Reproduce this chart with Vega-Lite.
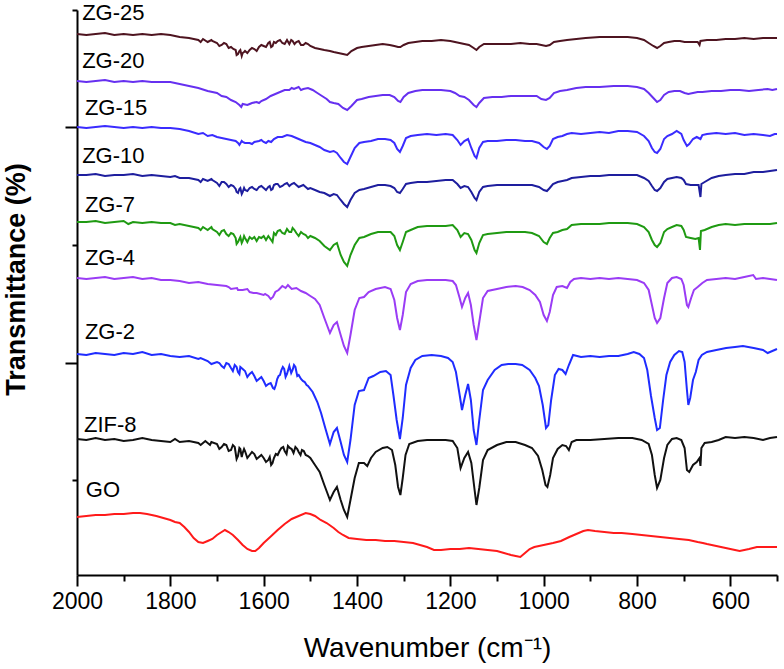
{
"$schema":"https://vega.github.io/schema/vega-lite/v6.json",
"width":700,"height":565,
"autosize":{"type":"none"},
"padding":{"left":77,"top":10,"right":7,"bottom":94},
"background":"white",
"config":{"view":{"stroke":null},"font":"Liberation Sans"},
"datasets":{
"spec":[
{"s":"ZIF-8","w":2000,"t":136},{"s":"ZIF-8","w":1980,"t":135},{"s":"ZIF-8","w":1960,"t":137},{"s":"ZIF-8","w":1940,"t":135},{"s":"ZIF-8","w":1920,"t":136},{"s":"ZIF-8","w":1900,"t":134},{"s":"ZIF-8","w":1880,"t":135},{"s":"ZIF-8","w":1860,"t":137},{"s":"ZIF-8","w":1840,"t":135},{"s":"ZIF-8","w":1820,"t":134},{"s":"ZIF-8","w":1800,"t":133},{"s":"ZIF-8","w":1790,"t":136},{"s":"ZIF-8","w":1780,"t":133},{"s":"ZIF-8","w":1760,"t":134},{"s":"ZIF-8","w":1740,"t":132},{"s":"ZIF-8","w":1735,"t":130},{"s":"ZIF-8","w":1725,"t":134},{"s":"ZIF-8","w":1715,"t":130},{"s":"ZIF-8","w":1712,"t":133},{"s":"ZIF-8","w":1700,"t":131},{"s":"ZIF-8","w":1695,"t":126},{"s":"ZIF-8","w":1690,"t":128},{"s":"ZIF-8","w":1685,"t":131},{"s":"ZIF-8","w":1680,"t":130},{"s":"ZIF-8","w":1675,"t":124},{"s":"ZIF-8","w":1670,"t":125},{"s":"ZIF-8","w":1666,"t":130},{"s":"ZIF-8","w":1662,"t":128},{"s":"ZIF-8","w":1658,"t":116},{"s":"ZIF-8","w":1655,"t":119},{"s":"ZIF-8","w":1652,"t":127},{"s":"ZIF-8","w":1650,"t":126},{"s":"ZIF-8","w":1647,"t":118},{"s":"ZIF-8","w":1645,"t":122},{"s":"ZIF-8","w":1642,"t":126},{"s":"ZIF-8","w":1640,"t":124},{"s":"ZIF-8","w":1635,"t":117},{"s":"ZIF-8","w":1630,"t":120},{"s":"ZIF-8","w":1625,"t":123},{"s":"ZIF-8","w":1620,"t":121},{"s":"ZIF-8","w":1615,"t":116},{"s":"ZIF-8","w":1610,"t":118},{"s":"ZIF-8","w":1605,"t":120},{"s":"ZIF-8","w":1600,"t":117},{"s":"ZIF-8","w":1595,"t":113},{"s":"ZIF-8","w":1590,"t":115},{"s":"ZIF-8","w":1587,"t":118},{"s":"ZIF-8","w":1584,"t":110},{"s":"ZIF-8","w":1581,"t":112},{"s":"ZIF-8","w":1578,"t":117},{"s":"ZIF-8","w":1574,"t":121},{"s":"ZIF-8","w":1570,"t":120},{"s":"ZIF-8","w":1566,"t":124},{"s":"ZIF-8","w":1562,"t":127},{"s":"ZIF-8","w":1558,"t":128},{"s":"ZIF-8","w":1555,"t":124},{"s":"ZIF-8","w":1551,"t":121},{"s":"ZIF-8","w":1548,"t":129},{"s":"ZIF-8","w":1544,"t":127},{"s":"ZIF-8","w":1540,"t":126},{"s":"ZIF-8","w":1536,"t":122},{"s":"ZIF-8","w":1532,"t":128},{"s":"ZIF-8","w":1528,"t":126},{"s":"ZIF-8","w":1525,"t":123},{"s":"ZIF-8","w":1521,"t":120},{"s":"ZIF-8","w":1518,"t":125},{"s":"ZIF-8","w":1514,"t":124},{"s":"ZIF-8","w":1510,"t":120},{"s":"ZIF-8","w":1505,"t":119},{"s":"ZIF-8","w":1500,"t":117},{"s":"ZIF-8","w":1490,"t":110},{"s":"ZIF-8","w":1480,"t":103},{"s":"ZIF-8","w":1470,"t":90},{"s":"ZIF-8","w":1458,"t":75},{"s":"ZIF-8","w":1450,"t":83},{"s":"ZIF-8","w":1443,"t":88},{"s":"ZIF-8","w":1435,"t":75},{"s":"ZIF-8","w":1428,"t":65},{"s":"ZIF-8","w":1421,"t":58},{"s":"ZIF-8","w":1414,"t":75},{"s":"ZIF-8","w":1405,"t":97},{"s":"ZIF-8","w":1396,"t":112},{"s":"ZIF-8","w":1385,"t":112},{"s":"ZIF-8","w":1378,"t":109},{"s":"ZIF-8","w":1370,"t":117},{"s":"ZIF-8","w":1360,"t":123},{"s":"ZIF-8","w":1345,"t":127},{"s":"ZIF-8","w":1335,"t":128},{"s":"ZIF-8","w":1325,"t":125},{"s":"ZIF-8","w":1318,"t":110},{"s":"ZIF-8","w":1312,"t":88},{"s":"ZIF-8","w":1307,"t":80},{"s":"ZIF-8","w":1302,"t":97},{"s":"ZIF-8","w":1296,"t":120},{"s":"ZIF-8","w":1288,"t":131},{"s":"ZIF-8","w":1270,"t":134},{"s":"ZIF-8","w":1250,"t":135},{"s":"ZIF-8","w":1230,"t":135},{"s":"ZIF-8","w":1210,"t":135},{"s":"ZIF-8","w":1195,"t":134},{"s":"ZIF-8","w":1185,"t":127},{"s":"ZIF-8","w":1178,"t":107},{"s":"ZIF-8","w":1170,"t":117},{"s":"ZIF-8","w":1162,"t":123},{"s":"ZIF-8","w":1155,"t":112},{"s":"ZIF-8","w":1148,"t":85},{"s":"ZIF-8","w":1144,"t":70},{"s":"ZIF-8","w":1138,"t":87},{"s":"ZIF-8","w":1130,"t":115},{"s":"ZIF-8","w":1120,"t":125},{"s":"ZIF-8","w":1100,"t":130},{"s":"ZIF-8","w":1080,"t":133},{"s":"ZIF-8","w":1060,"t":133},{"s":"ZIF-8","w":1040,"t":130},{"s":"ZIF-8","w":1025,"t":127},{"s":"ZIF-8","w":1012,"t":119},{"s":"ZIF-8","w":1003,"t":105},{"s":"ZIF-8","w":996,"t":90},{"s":"ZIF-8","w":992,"t":88},{"s":"ZIF-8","w":986,"t":100},{"s":"ZIF-8","w":980,"t":117},{"s":"ZIF-8","w":970,"t":126},{"s":"ZIF-8","w":960,"t":130},{"s":"ZIF-8","w":952,"t":129},{"s":"ZIF-8","w":946,"t":125},{"s":"ZIF-8","w":940,"t":133},{"s":"ZIF-8","w":930,"t":135},{"s":"ZIF-8","w":900,"t":135},{"s":"ZIF-8","w":870,"t":136},{"s":"ZIF-8","w":840,"t":137},{"s":"ZIF-8","w":810,"t":137},{"s":"ZIF-8","w":790,"t":135},{"s":"ZIF-8","w":775,"t":131},{"s":"ZIF-8","w":768,"t":120},{"s":"ZIF-8","w":762,"t":100},{"s":"ZIF-8","w":757,"t":87},{"s":"ZIF-8","w":750,"t":95},{"s":"ZIF-8","w":742,"t":117},{"s":"ZIF-8","w":735,"t":130},{"s":"ZIF-8","w":725,"t":136},{"s":"ZIF-8","w":715,"t":137},{"s":"ZIF-8","w":705,"t":135},{"s":"ZIF-8","w":698,"t":127},{"s":"ZIF-8","w":693,"t":105},{"s":"ZIF-8","w":688,"t":103},{"s":"ZIF-8","w":680,"t":110},{"s":"ZIF-8","w":672,"t":113},{"s":"ZIF-8","w":666,"t":117},{"s":"ZIF-8","w":664,"t":109},{"s":"ZIF-8","w":662,"t":127},{"s":"ZIF-8","w":655,"t":132},{"s":"ZIF-8","w":640,"t":133},{"s":"ZIF-8","w":625,"t":135},{"s":"ZIF-8","w":610,"t":138},{"s":"ZIF-8","w":590,"t":137},{"s":"ZIF-8","w":570,"t":138},{"s":"ZIF-8","w":550,"t":137},{"s":"ZIF-8","w":530,"t":135},{"s":"ZIF-8","w":515,"t":137},{"s":"ZIF-8","w":500,"t":138},
{"s":"ZG-2","w":2000,"t":221},{"s":"ZG-2","w":1980,"t":220},{"s":"ZG-2","w":1960,"t":222},{"s":"ZG-2","w":1940,"t":221},{"s":"ZG-2","w":1920,"t":220},{"s":"ZG-2","w":1900,"t":222},{"s":"ZG-2","w":1880,"t":221},{"s":"ZG-2","w":1860,"t":223},{"s":"ZG-2","w":1840,"t":220},{"s":"ZG-2","w":1820,"t":221},{"s":"ZG-2","w":1800,"t":219},{"s":"ZG-2","w":1780,"t":218},{"s":"ZG-2","w":1760,"t":219},{"s":"ZG-2","w":1740,"t":216},{"s":"ZG-2","w":1735,"t":217},{"s":"ZG-2","w":1720,"t":214},{"s":"ZG-2","w":1712,"t":211},{"s":"ZG-2","w":1700,"t":213},{"s":"ZG-2","w":1695,"t":212},{"s":"ZG-2","w":1690,"t":209},{"s":"ZG-2","w":1685,"t":207},{"s":"ZG-2","w":1680,"t":212},{"s":"ZG-2","w":1675,"t":211},{"s":"ZG-2","w":1670,"t":207},{"s":"ZG-2","w":1666,"t":204},{"s":"ZG-2","w":1662,"t":210},{"s":"ZG-2","w":1658,"t":208},{"s":"ZG-2","w":1655,"t":203},{"s":"ZG-2","w":1652,"t":201},{"s":"ZG-2","w":1650,"t":208},{"s":"ZG-2","w":1645,"t":206},{"s":"ZG-2","w":1640,"t":204},{"s":"ZG-2","w":1635,"t":198},{"s":"ZG-2","w":1630,"t":201},{"s":"ZG-2","w":1625,"t":203},{"s":"ZG-2","w":1620,"t":199},{"s":"ZG-2","w":1615,"t":194},{"s":"ZG-2","w":1610,"t":196},{"s":"ZG-2","w":1605,"t":198},{"s":"ZG-2","w":1600,"t":194},{"s":"ZG-2","w":1595,"t":189},{"s":"ZG-2","w":1590,"t":191},{"s":"ZG-2","w":1585,"t":192},{"s":"ZG-2","w":1580,"t":187},{"s":"ZG-2","w":1577,"t":186},{"s":"ZG-2","w":1574,"t":190},{"s":"ZG-2","w":1571,"t":196},{"s":"ZG-2","w":1568,"t":199},{"s":"ZG-2","w":1565,"t":200},{"s":"ZG-2","w":1562,"t":205},{"s":"ZG-2","w":1559,"t":208},{"s":"ZG-2","w":1556,"t":206},{"s":"ZG-2","w":1553,"t":198},{"s":"ZG-2","w":1550,"t":201},{"s":"ZG-2","w":1545,"t":209},{"s":"ZG-2","w":1541,"t":202},{"s":"ZG-2","w":1538,"t":205},{"s":"ZG-2","w":1535,"t":210},{"s":"ZG-2","w":1532,"t":208},{"s":"ZG-2","w":1528,"t":199},{"s":"ZG-2","w":1525,"t":200},{"s":"ZG-2","w":1520,"t":196},{"s":"ZG-2","w":1516,"t":194},{"s":"ZG-2","w":1512,"t":193},{"s":"ZG-2","w":1508,"t":190},{"s":"ZG-2","w":1505,"t":189},{"s":"ZG-2","w":1495,"t":183},{"s":"ZG-2","w":1485,"t":173},{"s":"ZG-2","w":1477,"t":162},{"s":"ZG-2","w":1468,"t":147},{"s":"ZG-2","w":1458,"t":131},{"s":"ZG-2","w":1450,"t":143},{"s":"ZG-2","w":1443,"t":147},{"s":"ZG-2","w":1435,"t":133},{"s":"ZG-2","w":1428,"t":120},{"s":"ZG-2","w":1421,"t":113},{"s":"ZG-2","w":1414,"t":135},{"s":"ZG-2","w":1405,"t":170},{"s":"ZG-2","w":1396,"t":184},{"s":"ZG-2","w":1385,"t":185},{"s":"ZG-2","w":1375,"t":197},{"s":"ZG-2","w":1365,"t":199},{"s":"ZG-2","w":1350,"t":203},{"s":"ZG-2","w":1338,"t":204},{"s":"ZG-2","w":1328,"t":200},{"s":"ZG-2","w":1322,"t":180},{"s":"ZG-2","w":1315,"t":155},{"s":"ZG-2","w":1308,"t":136},{"s":"ZG-2","w":1302,"t":157},{"s":"ZG-2","w":1295,"t":190},{"s":"ZG-2","w":1285,"t":207},{"s":"ZG-2","w":1275,"t":215},{"s":"ZG-2","w":1260,"t":219},{"s":"ZG-2","w":1240,"t":220},{"s":"ZG-2","w":1220,"t":219},{"s":"ZG-2","w":1205,"t":217},{"s":"ZG-2","w":1195,"t":213},{"s":"ZG-2","w":1188,"t":203},{"s":"ZG-2","w":1180,"t":180},{"s":"ZG-2","w":1175,"t":165},{"s":"ZG-2","w":1168,"t":180},{"s":"ZG-2","w":1162,"t":191},{"s":"ZG-2","w":1156,"t":175},{"s":"ZG-2","w":1150,"t":145},{"s":"ZG-2","w":1144,"t":130},{"s":"ZG-2","w":1138,"t":155},{"s":"ZG-2","w":1130,"t":185},{"s":"ZG-2","w":1120,"t":195},{"s":"ZG-2","w":1105,"t":205},{"s":"ZG-2","w":1090,"t":210},{"s":"ZG-2","w":1076,"t":211},{"s":"ZG-2","w":1060,"t":211},{"s":"ZG-2","w":1046,"t":210},{"s":"ZG-2","w":1030,"t":205},{"s":"ZG-2","w":1018,"t":197},{"s":"ZG-2","w":1010,"t":189},{"s":"ZG-2","w":1002,"t":170},{"s":"ZG-2","w":995,"t":147},{"s":"ZG-2","w":990,"t":150},{"s":"ZG-2","w":984,"t":175},{"s":"ZG-2","w":976,"t":200},{"s":"ZG-2","w":968,"t":206},{"s":"ZG-2","w":960,"t":205},{"s":"ZG-2","w":953,"t":201},{"s":"ZG-2","w":946,"t":210},{"s":"ZG-2","w":937,"t":220},{"s":"ZG-2","w":920,"t":218},{"s":"ZG-2","w":900,"t":219},{"s":"ZG-2","w":880,"t":218},{"s":"ZG-2","w":860,"t":219},{"s":"ZG-2","w":840,"t":219},{"s":"ZG-2","w":820,"t":221},{"s":"ZG-2","w":807,"t":223},{"s":"ZG-2","w":795,"t":221},{"s":"ZG-2","w":785,"t":217},{"s":"ZG-2","w":778,"t":205},{"s":"ZG-2","w":770,"t":179},{"s":"ZG-2","w":762,"t":157},{"s":"ZG-2","w":757,"t":145},{"s":"ZG-2","w":751,"t":147},{"s":"ZG-2","w":744,"t":175},{"s":"ZG-2","w":737,"t":200},{"s":"ZG-2","w":729,"t":213},{"s":"ZG-2","w":720,"t":220},{"s":"ZG-2","w":710,"t":224},{"s":"ZG-2","w":703,"t":223},{"s":"ZG-2","w":698,"t":213},{"s":"ZG-2","w":693,"t":185},{"s":"ZG-2","w":690,"t":170},{"s":"ZG-2","w":686,"t":177},{"s":"ZG-2","w":680,"t":195},{"s":"ZG-2","w":674,"t":203},{"s":"ZG-2","w":668,"t":215},{"s":"ZG-2","w":661,"t":220},{"s":"ZG-2","w":650,"t":223},{"s":"ZG-2","w":630,"t":225},{"s":"ZG-2","w":609,"t":227},{"s":"ZG-2","w":590,"t":228},{"s":"ZG-2","w":573,"t":229},{"s":"ZG-2","w":550,"t":227},{"s":"ZG-2","w":530,"t":225},{"s":"ZG-2","w":520,"t":222},{"s":"ZG-2","w":515,"t":223},{"s":"ZG-2","w":505,"t":225},{"s":"ZG-2","w":500,"t":226},
{"s":"ZG-4","w":2000,"t":297},{"s":"ZG-4","w":1980,"t":296},{"s":"ZG-4","w":1960,"t":297},{"s":"ZG-4","w":1940,"t":298},{"s":"ZG-4","w":1920,"t":296},{"s":"ZG-4","w":1900,"t":297},{"s":"ZG-4","w":1880,"t":298},{"s":"ZG-4","w":1860,"t":296},{"s":"ZG-4","w":1840,"t":297},{"s":"ZG-4","w":1820,"t":295},{"s":"ZG-4","w":1800,"t":295},{"s":"ZG-4","w":1780,"t":294},{"s":"ZG-4","w":1760,"t":292},{"s":"ZG-4","w":1740,"t":293},{"s":"ZG-4","w":1720,"t":291},{"s":"ZG-4","w":1700,"t":290},{"s":"ZG-4","w":1680,"t":289},{"s":"ZG-4","w":1675,"t":288},{"s":"ZG-4","w":1670,"t":286},{"s":"ZG-4","w":1657,"t":287},{"s":"ZG-4","w":1655,"t":285},{"s":"ZG-4","w":1645,"t":285},{"s":"ZG-4","w":1635,"t":286},{"s":"ZG-4","w":1630,"t":283},{"s":"ZG-4","w":1622,"t":282},{"s":"ZG-4","w":1615,"t":282},{"s":"ZG-4","w":1600,"t":280},{"s":"ZG-4","w":1597,"t":281},{"s":"ZG-4","w":1590,"t":279},{"s":"ZG-4","w":1585,"t":276},{"s":"ZG-4","w":1580,"t":278},{"s":"ZG-4","w":1575,"t":283},{"s":"ZG-4","w":1568,"t":285},{"s":"ZG-4","w":1560,"t":289},{"s":"ZG-4","w":1553,"t":287},{"s":"ZG-4","w":1548,"t":290},{"s":"ZG-4","w":1540,"t":286},{"s":"ZG-4","w":1530,"t":287},{"s":"ZG-4","w":1520,"t":284},{"s":"ZG-4","w":1510,"t":282},{"s":"ZG-4","w":1500,"t":279},{"s":"ZG-4","w":1490,"t":276},{"s":"ZG-4","w":1480,"t":270},{"s":"ZG-4","w":1470,"t":257},{"s":"ZG-4","w":1458,"t":242},{"s":"ZG-4","w":1450,"t":250},{"s":"ZG-4","w":1443,"t":253},{"s":"ZG-4","w":1435,"t":240},{"s":"ZG-4","w":1428,"t":229},{"s":"ZG-4","w":1421,"t":222},{"s":"ZG-4","w":1414,"t":240},{"s":"ZG-4","w":1405,"t":265},{"s":"ZG-4","w":1395,"t":277},{"s":"ZG-4","w":1385,"t":278},{"s":"ZG-4","w":1375,"t":283},{"s":"ZG-4","w":1360,"t":286},{"s":"ZG-4","w":1340,"t":288},{"s":"ZG-4","w":1328,"t":286},{"s":"ZG-4","w":1320,"t":275},{"s":"ZG-4","w":1314,"t":257},{"s":"ZG-4","w":1308,"t":245},{"s":"ZG-4","w":1302,"t":260},{"s":"ZG-4","w":1295,"t":283},{"s":"ZG-4","w":1285,"t":291},{"s":"ZG-4","w":1270,"t":294},{"s":"ZG-4","w":1250,"t":295},{"s":"ZG-4","w":1230,"t":295},{"s":"ZG-4","w":1210,"t":295},{"s":"ZG-4","w":1195,"t":294},{"s":"ZG-4","w":1188,"t":290},{"s":"ZG-4","w":1180,"t":277},{"s":"ZG-4","w":1175,"t":268},{"s":"ZG-4","w":1168,"t":277},{"s":"ZG-4","w":1162,"t":282},{"s":"ZG-4","w":1156,"t":270},{"s":"ZG-4","w":1150,"t":250},{"s":"ZG-4","w":1144,"t":235},{"s":"ZG-4","w":1138,"t":253},{"s":"ZG-4","w":1130,"t":277},{"s":"ZG-4","w":1120,"t":284},{"s":"ZG-4","w":1100,"t":286},{"s":"ZG-4","w":1080,"t":288},{"s":"ZG-4","w":1060,"t":289},{"s":"ZG-4","w":1045,"t":288},{"s":"ZG-4","w":1030,"t":285},{"s":"ZG-4","w":1018,"t":280},{"s":"ZG-4","w":1008,"t":273},{"s":"ZG-4","w":1000,"t":260},{"s":"ZG-4","w":993,"t":254},{"s":"ZG-4","w":987,"t":263},{"s":"ZG-4","w":980,"t":280},{"s":"ZG-4","w":972,"t":288},{"s":"ZG-4","w":960,"t":289},{"s":"ZG-4","w":950,"t":287},{"s":"ZG-4","w":943,"t":293},{"s":"ZG-4","w":935,"t":296},{"s":"ZG-4","w":920,"t":297},{"s":"ZG-4","w":900,"t":296},{"s":"ZG-4","w":880,"t":297},{"s":"ZG-4","w":860,"t":296},{"s":"ZG-4","w":840,"t":297},{"s":"ZG-4","w":820,"t":296},{"s":"ZG-4","w":800,"t":295},{"s":"ZG-4","w":785,"t":292},{"s":"ZG-4","w":775,"t":285},{"s":"ZG-4","w":768,"t":270},{"s":"ZG-4","w":762,"t":257},{"s":"ZG-4","w":757,"t":252},{"s":"ZG-4","w":750,"t":257},{"s":"ZG-4","w":742,"t":277},{"s":"ZG-4","w":735,"t":292},{"s":"ZG-4","w":725,"t":297},{"s":"ZG-4","w":715,"t":298},{"s":"ZG-4","w":705,"t":296},{"s":"ZG-4","w":700,"t":290},{"s":"ZG-4","w":693,"t":270},{"s":"ZG-4","w":690,"t":268},{"s":"ZG-4","w":684,"t":277},{"s":"ZG-4","w":678,"t":285},{"s":"ZG-4","w":670,"t":288},{"s":"ZG-4","w":660,"t":292},{"s":"ZG-4","w":650,"t":295},{"s":"ZG-4","w":630,"t":296},{"s":"ZG-4","w":610,"t":297},{"s":"ZG-4","w":590,"t":296},{"s":"ZG-4","w":570,"t":298},{"s":"ZG-4","w":551,"t":300},{"s":"ZG-4","w":545,"t":296},{"s":"ZG-4","w":530,"t":297},{"s":"ZG-4","w":515,"t":296},{"s":"ZG-4","w":500,"t":295},
{"s":"ZG-7","w":2000,"t":353},{"s":"ZG-7","w":1980,"t":353},{"s":"ZG-7","w":1960,"t":354},{"s":"ZG-7","w":1940,"t":352},{"s":"ZG-7","w":1920,"t":353},{"s":"ZG-7","w":1900,"t":354},{"s":"ZG-7","w":1890,"t":351},{"s":"ZG-7","w":1880,"t":353},{"s":"ZG-7","w":1860,"t":352},{"s":"ZG-7","w":1840,"t":353},{"s":"ZG-7","w":1820,"t":352},{"s":"ZG-7","w":1800,"t":352},{"s":"ZG-7","w":1790,"t":350},{"s":"ZG-7","w":1780,"t":351},{"s":"ZG-7","w":1760,"t":349},{"s":"ZG-7","w":1740,"t":347},{"s":"ZG-7","w":1735,"t":345},{"s":"ZG-7","w":1730,"t":348},{"s":"ZG-7","w":1720,"t":345},{"s":"ZG-7","w":1712,"t":348},{"s":"ZG-7","w":1710,"t":346},{"s":"ZG-7","w":1700,"t":343},{"s":"ZG-7","w":1695,"t":340},{"s":"ZG-7","w":1690,"t":344},{"s":"ZG-7","w":1685,"t":345},{"s":"ZG-7","w":1680,"t":341},{"s":"ZG-7","w":1675,"t":339},{"s":"ZG-7","w":1670,"t":342},{"s":"ZG-7","w":1665,"t":341},{"s":"ZG-7","w":1660,"t":337},{"s":"ZG-7","w":1658,"t":331},{"s":"ZG-7","w":1655,"t":333},{"s":"ZG-7","w":1652,"t":336},{"s":"ZG-7","w":1650,"t":338},{"s":"ZG-7","w":1647,"t":332},{"s":"ZG-7","w":1645,"t":334},{"s":"ZG-7","w":1642,"t":339},{"s":"ZG-7","w":1640,"t":337},{"s":"ZG-7","w":1635,"t":333},{"s":"ZG-7","w":1630,"t":338},{"s":"ZG-7","w":1625,"t":336},{"s":"ZG-7","w":1620,"t":338},{"s":"ZG-7","w":1615,"t":334},{"s":"ZG-7","w":1610,"t":338},{"s":"ZG-7","w":1605,"t":337},{"s":"ZG-7","w":1600,"t":339},{"s":"ZG-7","w":1595,"t":335},{"s":"ZG-7","w":1590,"t":339},{"s":"ZG-7","w":1587,"t":337},{"s":"ZG-7","w":1584,"t":335},{"s":"ZG-7","w":1581,"t":333},{"s":"ZG-7","w":1578,"t":342},{"s":"ZG-7","w":1574,"t":340},{"s":"ZG-7","w":1570,"t":344},{"s":"ZG-7","w":1565,"t":345},{"s":"ZG-7","w":1560,"t":342},{"s":"ZG-7","w":1555,"t":341},{"s":"ZG-7","w":1550,"t":346},{"s":"ZG-7","w":1545,"t":343},{"s":"ZG-7","w":1541,"t":343},{"s":"ZG-7","w":1538,"t":347},{"s":"ZG-7","w":1534,"t":345},{"s":"ZG-7","w":1530,"t":342},{"s":"ZG-7","w":1525,"t":339},{"s":"ZG-7","w":1520,"t":343},{"s":"ZG-7","w":1515,"t":341},{"s":"ZG-7","w":1510,"t":340},{"s":"ZG-7","w":1505,"t":337},{"s":"ZG-7","w":1500,"t":339},{"s":"ZG-7","w":1490,"t":337},{"s":"ZG-7","w":1480,"t":334},{"s":"ZG-7","w":1470,"t":329},{"s":"ZG-7","w":1458,"t":325},{"s":"ZG-7","w":1450,"t":330},{"s":"ZG-7","w":1443,"t":332},{"s":"ZG-7","w":1435,"t":320},{"s":"ZG-7","w":1428,"t":313},{"s":"ZG-7","w":1421,"t":309},{"s":"ZG-7","w":1414,"t":320},{"s":"ZG-7","w":1405,"t":330},{"s":"ZG-7","w":1395,"t":337},{"s":"ZG-7","w":1385,"t":338},{"s":"ZG-7","w":1370,"t":341},{"s":"ZG-7","w":1355,"t":343},{"s":"ZG-7","w":1340,"t":343},{"s":"ZG-7","w":1328,"t":343},{"s":"ZG-7","w":1320,"t":339},{"s":"ZG-7","w":1314,"t":330},{"s":"ZG-7","w":1308,"t":325},{"s":"ZG-7","w":1302,"t":333},{"s":"ZG-7","w":1295,"t":343},{"s":"ZG-7","w":1285,"t":345},{"s":"ZG-7","w":1270,"t":348},{"s":"ZG-7","w":1250,"t":349},{"s":"ZG-7","w":1230,"t":349},{"s":"ZG-7","w":1210,"t":349},{"s":"ZG-7","w":1195,"t":350},{"s":"ZG-7","w":1185,"t":345},{"s":"ZG-7","w":1178,"t":338},{"s":"ZG-7","w":1170,"t":342},{"s":"ZG-7","w":1162,"t":341},{"s":"ZG-7","w":1155,"t":335},{"s":"ZG-7","w":1148,"t":325},{"s":"ZG-7","w":1144,"t":322},{"s":"ZG-7","w":1138,"t":332},{"s":"ZG-7","w":1130,"t":340},{"s":"ZG-7","w":1120,"t":341},{"s":"ZG-7","w":1100,"t":342},{"s":"ZG-7","w":1080,"t":343},{"s":"ZG-7","w":1060,"t":343},{"s":"ZG-7","w":1040,"t":343},{"s":"ZG-7","w":1025,"t":342},{"s":"ZG-7","w":1010,"t":339},{"s":"ZG-7","w":1000,"t":333},{"s":"ZG-7","w":993,"t":331},{"s":"ZG-7","w":987,"t":337},{"s":"ZG-7","w":980,"t":342},{"s":"ZG-7","w":970,"t":343},{"s":"ZG-7","w":960,"t":345},{"s":"ZG-7","w":950,"t":346},{"s":"ZG-7","w":940,"t":350},{"s":"ZG-7","w":920,"t":351},{"s":"ZG-7","w":900,"t":351},{"s":"ZG-7","w":880,"t":351},{"s":"ZG-7","w":860,"t":352},{"s":"ZG-7","w":840,"t":352},{"s":"ZG-7","w":820,"t":352},{"s":"ZG-7","w":800,"t":351},{"s":"ZG-7","w":785,"t":348},{"s":"ZG-7","w":775,"t":343},{"s":"ZG-7","w":768,"t":335},{"s":"ZG-7","w":762,"t":330},{"s":"ZG-7","w":757,"t":328},{"s":"ZG-7","w":750,"t":332},{"s":"ZG-7","w":742,"t":343},{"s":"ZG-7","w":735,"t":346},{"s":"ZG-7","w":725,"t":348},{"s":"ZG-7","w":715,"t":350},{"s":"ZG-7","w":705,"t":349},{"s":"ZG-7","w":700,"t":345},{"s":"ZG-7","w":695,"t":338},{"s":"ZG-7","w":685,"t":337},{"s":"ZG-7","w":675,"t":336},{"s":"ZG-7","w":668,"t":337},{"s":"ZG-7","w":665,"t":325},{"s":"ZG-7","w":663,"t":344},{"s":"ZG-7","w":655,"t":345},{"s":"ZG-7","w":640,"t":348},{"s":"ZG-7","w":625,"t":350},{"s":"ZG-7","w":610,"t":351},{"s":"ZG-7","w":590,"t":350},{"s":"ZG-7","w":570,"t":351},{"s":"ZG-7","w":550,"t":351},{"s":"ZG-7","w":530,"t":351},{"s":"ZG-7","w":515,"t":351},{"s":"ZG-7","w":500,"t":352},
{"s":"ZG-10","w":2000,"t":400},{"s":"ZG-10","w":1980,"t":400},{"s":"ZG-10","w":1960,"t":401},{"s":"ZG-10","w":1940,"t":399},{"s":"ZG-10","w":1920,"t":400},{"s":"ZG-10","w":1900,"t":400},{"s":"ZG-10","w":1880,"t":401},{"s":"ZG-10","w":1860,"t":399},{"s":"ZG-10","w":1840,"t":400},{"s":"ZG-10","w":1820,"t":399},{"s":"ZG-10","w":1800,"t":398},{"s":"ZG-10","w":1790,"t":399},{"s":"ZG-10","w":1780,"t":397},{"s":"ZG-10","w":1760,"t":397},{"s":"ZG-10","w":1740,"t":395},{"s":"ZG-10","w":1735,"t":393},{"s":"ZG-10","w":1730,"t":396},{"s":"ZG-10","w":1720,"t":394},{"s":"ZG-10","w":1712,"t":396},{"s":"ZG-10","w":1710,"t":395},{"s":"ZG-10","w":1700,"t":392},{"s":"ZG-10","w":1695,"t":389},{"s":"ZG-10","w":1690,"t":393},{"s":"ZG-10","w":1685,"t":393},{"s":"ZG-10","w":1680,"t":391},{"s":"ZG-10","w":1675,"t":388},{"s":"ZG-10","w":1670,"t":390},{"s":"ZG-10","w":1665,"t":389},{"s":"ZG-10","w":1660,"t":386},{"s":"ZG-10","w":1658,"t":383},{"s":"ZG-10","w":1655,"t":382},{"s":"ZG-10","w":1652,"t":386},{"s":"ZG-10","w":1650,"t":387},{"s":"ZG-10","w":1647,"t":381},{"s":"ZG-10","w":1645,"t":383},{"s":"ZG-10","w":1642,"t":387},{"s":"ZG-10","w":1640,"t":385},{"s":"ZG-10","w":1635,"t":384},{"s":"ZG-10","w":1630,"t":387},{"s":"ZG-10","w":1625,"t":388},{"s":"ZG-10","w":1620,"t":386},{"s":"ZG-10","w":1615,"t":385},{"s":"ZG-10","w":1610,"t":388},{"s":"ZG-10","w":1605,"t":389},{"s":"ZG-10","w":1600,"t":387},{"s":"ZG-10","w":1595,"t":385},{"s":"ZG-10","w":1590,"t":388},{"s":"ZG-10","w":1587,"t":389},{"s":"ZG-10","w":1584,"t":385},{"s":"ZG-10","w":1581,"t":386},{"s":"ZG-10","w":1578,"t":390},{"s":"ZG-10","w":1574,"t":391},{"s":"ZG-10","w":1570,"t":391},{"s":"ZG-10","w":1565,"t":388},{"s":"ZG-10","w":1560,"t":389},{"s":"ZG-10","w":1555,"t":391},{"s":"ZG-10","w":1550,"t":392},{"s":"ZG-10","w":1545,"t":389},{"s":"ZG-10","w":1540,"t":391},{"s":"ZG-10","w":1535,"t":392},{"s":"ZG-10","w":1530,"t":390},{"s":"ZG-10","w":1525,"t":388},{"s":"ZG-10","w":1520,"t":389},{"s":"ZG-10","w":1515,"t":390},{"s":"ZG-10","w":1510,"t":388},{"s":"ZG-10","w":1505,"t":386},{"s":"ZG-10","w":1500,"t":387},{"s":"ZG-10","w":1490,"t":385},{"s":"ZG-10","w":1480,"t":383},{"s":"ZG-10","w":1470,"t":382},{"s":"ZG-10","w":1458,"t":379},{"s":"ZG-10","w":1450,"t":381},{"s":"ZG-10","w":1443,"t":380},{"s":"ZG-10","w":1435,"t":375},{"s":"ZG-10","w":1428,"t":371},{"s":"ZG-10","w":1421,"t":368},{"s":"ZG-10","w":1414,"t":375},{"s":"ZG-10","w":1405,"t":382},{"s":"ZG-10","w":1395,"t":385},{"s":"ZG-10","w":1385,"t":386},{"s":"ZG-10","w":1370,"t":388},{"s":"ZG-10","w":1355,"t":390},{"s":"ZG-10","w":1340,"t":390},{"s":"ZG-10","w":1328,"t":389},{"s":"ZG-10","w":1320,"t":387},{"s":"ZG-10","w":1314,"t":383},{"s":"ZG-10","w":1308,"t":382},{"s":"ZG-10","w":1302,"t":386},{"s":"ZG-10","w":1295,"t":391},{"s":"ZG-10","w":1285,"t":392},{"s":"ZG-10","w":1270,"t":393},{"s":"ZG-10","w":1250,"t":393},{"s":"ZG-10","w":1230,"t":394},{"s":"ZG-10","w":1210,"t":395},{"s":"ZG-10","w":1195,"t":395},{"s":"ZG-10","w":1185,"t":391},{"s":"ZG-10","w":1178,"t":387},{"s":"ZG-10","w":1170,"t":389},{"s":"ZG-10","w":1162,"t":388},{"s":"ZG-10","w":1155,"t":383},{"s":"ZG-10","w":1148,"t":377},{"s":"ZG-10","w":1144,"t":375},{"s":"ZG-10","w":1138,"t":383},{"s":"ZG-10","w":1130,"t":388},{"s":"ZG-10","w":1120,"t":389},{"s":"ZG-10","w":1100,"t":390},{"s":"ZG-10","w":1080,"t":390},{"s":"ZG-10","w":1060,"t":390},{"s":"ZG-10","w":1040,"t":390},{"s":"ZG-10","w":1025,"t":390},{"s":"ZG-10","w":1010,"t":388},{"s":"ZG-10","w":1000,"t":385},{"s":"ZG-10","w":993,"t":384},{"s":"ZG-10","w":987,"t":387},{"s":"ZG-10","w":980,"t":391},{"s":"ZG-10","w":970,"t":393},{"s":"ZG-10","w":960,"t":394},{"s":"ZG-10","w":950,"t":395},{"s":"ZG-10","w":940,"t":397},{"s":"ZG-10","w":920,"t":398},{"s":"ZG-10","w":900,"t":399},{"s":"ZG-10","w":880,"t":399},{"s":"ZG-10","w":860,"t":400},{"s":"ZG-10","w":840,"t":400},{"s":"ZG-10","w":820,"t":400},{"s":"ZG-10","w":800,"t":400},{"s":"ZG-10","w":785,"t":397},{"s":"ZG-10","w":775,"t":394},{"s":"ZG-10","w":768,"t":389},{"s":"ZG-10","w":762,"t":385},{"s":"ZG-10","w":757,"t":384},{"s":"ZG-10","w":750,"t":387},{"s":"ZG-10","w":742,"t":393},{"s":"ZG-10","w":735,"t":396},{"s":"ZG-10","w":725,"t":397},{"s":"ZG-10","w":715,"t":398},{"s":"ZG-10","w":705,"t":397},{"s":"ZG-10","w":700,"t":395},{"s":"ZG-10","w":695,"t":391},{"s":"ZG-10","w":685,"t":390},{"s":"ZG-10","w":675,"t":390},{"s":"ZG-10","w":668,"t":390},{"s":"ZG-10","w":664,"t":378},{"s":"ZG-10","w":662,"t":391},{"s":"ZG-10","w":655,"t":393},{"s":"ZG-10","w":640,"t":397},{"s":"ZG-10","w":625,"t":399},{"s":"ZG-10","w":610,"t":400},{"s":"ZG-10","w":590,"t":401},{"s":"ZG-10","w":570,"t":401},{"s":"ZG-10","w":550,"t":403},{"s":"ZG-10","w":530,"t":403},{"s":"ZG-10","w":515,"t":404},{"s":"ZG-10","w":500,"t":405},
{"s":"ZG-15","w":2000,"t":448},{"s":"ZG-15","w":1980,"t":447},{"s":"ZG-15","w":1960,"t":448},{"s":"ZG-15","w":1940,"t":449},{"s":"ZG-15","w":1920,"t":448},{"s":"ZG-15","w":1900,"t":447},{"s":"ZG-15","w":1880,"t":448},{"s":"ZG-15","w":1860,"t":447},{"s":"ZG-15","w":1840,"t":448},{"s":"ZG-15","w":1820,"t":447},{"s":"ZG-15","w":1800,"t":447},{"s":"ZG-15","w":1780,"t":446},{"s":"ZG-15","w":1760,"t":444},{"s":"ZG-15","w":1740,"t":441},{"s":"ZG-15","w":1730,"t":442},{"s":"ZG-15","w":1720,"t":439},{"s":"ZG-15","w":1710,"t":440},{"s":"ZG-15","w":1700,"t":438},{"s":"ZG-15","w":1690,"t":437},{"s":"ZG-15","w":1680,"t":436},{"s":"ZG-15","w":1670,"t":435},{"s":"ZG-15","w":1660,"t":434},{"s":"ZG-15","w":1655,"t":432},{"s":"ZG-15","w":1652,"t":430},{"s":"ZG-15","w":1647,"t":434},{"s":"ZG-15","w":1645,"t":433},{"s":"ZG-15","w":1640,"t":432},{"s":"ZG-15","w":1630,"t":432},{"s":"ZG-15","w":1625,"t":431},{"s":"ZG-15","w":1620,"t":433},{"s":"ZG-15","w":1610,"t":434},{"s":"ZG-15","w":1605,"t":435},{"s":"ZG-15","w":1600,"t":433},{"s":"ZG-15","w":1595,"t":432},{"s":"ZG-15","w":1590,"t":434},{"s":"ZG-15","w":1584,"t":433},{"s":"ZG-15","w":1578,"t":436},{"s":"ZG-15","w":1570,"t":438},{"s":"ZG-15","w":1560,"t":438},{"s":"ZG-15","w":1550,"t":440},{"s":"ZG-15","w":1540,"t":439},{"s":"ZG-15","w":1530,"t":437},{"s":"ZG-15","w":1520,"t":435},{"s":"ZG-15","w":1510,"t":433},{"s":"ZG-15","w":1500,"t":432},{"s":"ZG-15","w":1490,"t":430},{"s":"ZG-15","w":1480,"t":428},{"s":"ZG-15","w":1470,"t":425},{"s":"ZG-15","w":1458,"t":423},{"s":"ZG-15","w":1450,"t":424},{"s":"ZG-15","w":1443,"t":422},{"s":"ZG-15","w":1435,"t":417},{"s":"ZG-15","w":1428,"t":413},{"s":"ZG-15","w":1421,"t":411},{"s":"ZG-15","w":1414,"t":418},{"s":"ZG-15","w":1405,"t":427},{"s":"ZG-15","w":1395,"t":432},{"s":"ZG-15","w":1385,"t":433},{"s":"ZG-15","w":1370,"t":434},{"s":"ZG-15","w":1355,"t":436},{"s":"ZG-15","w":1340,"t":436},{"s":"ZG-15","w":1328,"t":435},{"s":"ZG-15","w":1320,"t":432},{"s":"ZG-15","w":1314,"t":426},{"s":"ZG-15","w":1308,"t":423},{"s":"ZG-15","w":1302,"t":429},{"s":"ZG-15","w":1295,"t":437},{"s":"ZG-15","w":1285,"t":439},{"s":"ZG-15","w":1270,"t":440},{"s":"ZG-15","w":1250,"t":441},{"s":"ZG-15","w":1230,"t":440},{"s":"ZG-15","w":1210,"t":441},{"s":"ZG-15","w":1195,"t":440},{"s":"ZG-15","w":1185,"t":435},{"s":"ZG-15","w":1178,"t":430},{"s":"ZG-15","w":1170,"t":434},{"s":"ZG-15","w":1162,"t":436},{"s":"ZG-15","w":1155,"t":427},{"s":"ZG-15","w":1148,"t":419},{"s":"ZG-15","w":1144,"t":417},{"s":"ZG-15","w":1138,"t":427},{"s":"ZG-15","w":1130,"t":433},{"s":"ZG-15","w":1120,"t":434},{"s":"ZG-15","w":1100,"t":434},{"s":"ZG-15","w":1080,"t":435},{"s":"ZG-15","w":1060,"t":435},{"s":"ZG-15","w":1040,"t":434},{"s":"ZG-15","w":1025,"t":434},{"s":"ZG-15","w":1010,"t":432},{"s":"ZG-15","w":1000,"t":428},{"s":"ZG-15","w":993,"t":426},{"s":"ZG-15","w":987,"t":429},{"s":"ZG-15","w":980,"t":436},{"s":"ZG-15","w":970,"t":438},{"s":"ZG-15","w":960,"t":439},{"s":"ZG-15","w":950,"t":441},{"s":"ZG-15","w":940,"t":442},{"s":"ZG-15","w":920,"t":441},{"s":"ZG-15","w":900,"t":442},{"s":"ZG-15","w":880,"t":443},{"s":"ZG-15","w":860,"t":442},{"s":"ZG-15","w":840,"t":444},{"s":"ZG-15","w":820,"t":444},{"s":"ZG-15","w":800,"t":443},{"s":"ZG-15","w":785,"t":439},{"s":"ZG-15","w":775,"t":434},{"s":"ZG-15","w":768,"t":427},{"s":"ZG-15","w":762,"t":423},{"s":"ZG-15","w":757,"t":422},{"s":"ZG-15","w":750,"t":426},{"s":"ZG-15","w":742,"t":436},{"s":"ZG-15","w":735,"t":439},{"s":"ZG-15","w":725,"t":441},{"s":"ZG-15","w":715,"t":444},{"s":"ZG-15","w":705,"t":441},{"s":"ZG-15","w":700,"t":435},{"s":"ZG-15","w":693,"t":429},{"s":"ZG-15","w":688,"t":431},{"s":"ZG-15","w":680,"t":436},{"s":"ZG-15","w":672,"t":438},{"s":"ZG-15","w":664,"t":436},{"s":"ZG-15","w":660,"t":440},{"s":"ZG-15","w":650,"t":441},{"s":"ZG-15","w":630,"t":442},{"s":"ZG-15","w":610,"t":441},{"s":"ZG-15","w":590,"t":442},{"s":"ZG-15","w":570,"t":440},{"s":"ZG-15","w":550,"t":441},{"s":"ZG-15","w":530,"t":440},{"s":"ZG-15","w":515,"t":439},{"s":"ZG-15","w":505,"t":441},{"s":"ZG-15","w":500,"t":441},
{"s":"ZG-20","w":2000,"t":494},{"s":"ZG-20","w":1980,"t":493},{"s":"ZG-20","w":1960,"t":494},{"s":"ZG-20","w":1940,"t":495},{"s":"ZG-20","w":1920,"t":493},{"s":"ZG-20","w":1900,"t":494},{"s":"ZG-20","w":1880,"t":493},{"s":"ZG-20","w":1860,"t":494},{"s":"ZG-20","w":1840,"t":493},{"s":"ZG-20","w":1820,"t":493},{"s":"ZG-20","w":1800,"t":493},{"s":"ZG-20","w":1780,"t":491},{"s":"ZG-20","w":1760,"t":489},{"s":"ZG-20","w":1740,"t":487},{"s":"ZG-20","w":1720,"t":484},{"s":"ZG-20","w":1700,"t":482},{"s":"ZG-20","w":1690,"t":479},{"s":"ZG-20","w":1680,"t":478},{"s":"ZG-20","w":1670,"t":475},{"s":"ZG-20","w":1660,"t":473},{"s":"ZG-20","w":1652,"t":470},{"s":"ZG-20","w":1648,"t":468},{"s":"ZG-20","w":1645,"t":471},{"s":"ZG-20","w":1635,"t":470},{"s":"ZG-20","w":1630,"t":471},{"s":"ZG-20","w":1625,"t":472},{"s":"ZG-20","w":1615,"t":473},{"s":"ZG-20","w":1610,"t":472},{"s":"ZG-20","w":1605,"t":474},{"s":"ZG-20","w":1595,"t":476},{"s":"ZG-20","w":1585,"t":479},{"s":"ZG-20","w":1575,"t":481},{"s":"ZG-20","w":1565,"t":483},{"s":"ZG-20","w":1555,"t":485},{"s":"ZG-20","w":1545,"t":485},{"s":"ZG-20","w":1540,"t":487},{"s":"ZG-20","w":1535,"t":486},{"s":"ZG-20","w":1525,"t":488},{"s":"ZG-20","w":1520,"t":485},{"s":"ZG-20","w":1515,"t":486},{"s":"ZG-20","w":1505,"t":487},{"s":"ZG-20","w":1495,"t":485},{"s":"ZG-20","w":1485,"t":482},{"s":"ZG-20","w":1475,"t":479},{"s":"ZG-20","w":1465,"t":476},{"s":"ZG-20","w":1458,"t":473},{"s":"ZG-20","w":1450,"t":472},{"s":"ZG-20","w":1440,"t":471},{"s":"ZG-20","w":1430,"t":467},{"s":"ZG-20","w":1421,"t":465},{"s":"ZG-20","w":1412,"t":469},{"s":"ZG-20","w":1400,"t":475},{"s":"ZG-20","w":1390,"t":476},{"s":"ZG-20","w":1375,"t":478},{"s":"ZG-20","w":1360,"t":479},{"s":"ZG-20","w":1345,"t":480},{"s":"ZG-20","w":1330,"t":480},{"s":"ZG-20","w":1320,"t":478},{"s":"ZG-20","w":1312,"t":474},{"s":"ZG-20","w":1307,"t":473},{"s":"ZG-20","w":1300,"t":478},{"s":"ZG-20","w":1290,"t":482},{"s":"ZG-20","w":1275,"t":484},{"s":"ZG-20","w":1260,"t":485},{"s":"ZG-20","w":1240,"t":485},{"s":"ZG-20","w":1220,"t":485},{"s":"ZG-20","w":1200,"t":484},{"s":"ZG-20","w":1190,"t":482},{"s":"ZG-20","w":1180,"t":479},{"s":"ZG-20","w":1170,"t":478},{"s":"ZG-20","w":1160,"t":475},{"s":"ZG-20","w":1150,"t":470},{"s":"ZG-20","w":1144,"t":468},{"s":"ZG-20","w":1138,"t":472},{"s":"ZG-20","w":1128,"t":477},{"s":"ZG-20","w":1110,"t":478},{"s":"ZG-20","w":1090,"t":478},{"s":"ZG-20","w":1070,"t":479},{"s":"ZG-20","w":1050,"t":479},{"s":"ZG-20","w":1030,"t":479},{"s":"ZG-20","w":1015,"t":479},{"s":"ZG-20","w":1005,"t":476},{"s":"ZG-20","w":995,"t":475},{"s":"ZG-20","w":987,"t":477},{"s":"ZG-20","w":978,"t":482},{"s":"ZG-20","w":965,"t":484},{"s":"ZG-20","w":950,"t":485},{"s":"ZG-20","w":930,"t":487},{"s":"ZG-20","w":910,"t":488},{"s":"ZG-20","w":880,"t":488},{"s":"ZG-20","w":850,"t":489},{"s":"ZG-20","w":820,"t":489},{"s":"ZG-20","w":800,"t":488},{"s":"ZG-20","w":785,"t":486},{"s":"ZG-20","w":775,"t":482},{"s":"ZG-20","w":765,"t":477},{"s":"ZG-20","w":757,"t":473},{"s":"ZG-20","w":750,"t":475},{"s":"ZG-20","w":742,"t":480},{"s":"ZG-20","w":732,"t":483},{"s":"ZG-20","w":720,"t":484},{"s":"ZG-20","w":708,"t":484},{"s":"ZG-20","w":698,"t":482},{"s":"ZG-20","w":690,"t":481},{"s":"ZG-20","w":680,"t":482},{"s":"ZG-20","w":670,"t":483},{"s":"ZG-20","w":660,"t":483},{"s":"ZG-20","w":640,"t":484},{"s":"ZG-20","w":620,"t":484},{"s":"ZG-20","w":600,"t":485},{"s":"ZG-20","w":580,"t":485},{"s":"ZG-20","w":560,"t":484},{"s":"ZG-20","w":540,"t":485},{"s":"ZG-20","w":520,"t":486},{"s":"ZG-20","w":510,"t":485},{"s":"ZG-20","w":500,"t":486},
{"s":"ZG-25","w":2000,"t":541},{"s":"ZG-25","w":1980,"t":540},{"s":"ZG-25","w":1960,"t":541},{"s":"ZG-25","w":1940,"t":542},{"s":"ZG-25","w":1920,"t":540},{"s":"ZG-25","w":1900,"t":541},{"s":"ZG-25","w":1880,"t":540},{"s":"ZG-25","w":1860,"t":541},{"s":"ZG-25","w":1840,"t":540},{"s":"ZG-25","w":1820,"t":541},{"s":"ZG-25","w":1800,"t":540},{"s":"ZG-25","w":1790,"t":539},{"s":"ZG-25","w":1780,"t":538},{"s":"ZG-25","w":1760,"t":537},{"s":"ZG-25","w":1740,"t":535},{"s":"ZG-25","w":1735,"t":533},{"s":"ZG-25","w":1730,"t":536},{"s":"ZG-25","w":1720,"t":533},{"s":"ZG-25","w":1712,"t":535},{"s":"ZG-25","w":1710,"t":534},{"s":"ZG-25","w":1700,"t":532},{"s":"ZG-25","w":1695,"t":529},{"s":"ZG-25","w":1690,"t":530},{"s":"ZG-25","w":1685,"t":532},{"s":"ZG-25","w":1680,"t":531},{"s":"ZG-25","w":1675,"t":527},{"s":"ZG-25","w":1670,"t":528},{"s":"ZG-25","w":1665,"t":526},{"s":"ZG-25","w":1660,"t":525},{"s":"ZG-25","w":1658,"t":520},{"s":"ZG-25","w":1655,"t":521},{"s":"ZG-25","w":1652,"t":524},{"s":"ZG-25","w":1650,"t":525},{"s":"ZG-25","w":1647,"t":519},{"s":"ZG-25","w":1645,"t":522},{"s":"ZG-25","w":1642,"t":523},{"s":"ZG-25","w":1640,"t":524},{"s":"ZG-25","w":1635,"t":522},{"s":"ZG-25","w":1630,"t":525},{"s":"ZG-25","w":1625,"t":527},{"s":"ZG-25","w":1620,"t":526},{"s":"ZG-25","w":1615,"t":524},{"s":"ZG-25","w":1610,"t":528},{"s":"ZG-25","w":1605,"t":530},{"s":"ZG-25","w":1600,"t":529},{"s":"ZG-25","w":1595,"t":528},{"s":"ZG-25","w":1590,"t":532},{"s":"ZG-25","w":1587,"t":533},{"s":"ZG-25","w":1584,"t":528},{"s":"ZG-25","w":1581,"t":529},{"s":"ZG-25","w":1578,"t":533},{"s":"ZG-25","w":1574,"t":532},{"s":"ZG-25","w":1570,"t":534},{"s":"ZG-25","w":1565,"t":535},{"s":"ZG-25","w":1560,"t":532},{"s":"ZG-25","w":1555,"t":531},{"s":"ZG-25","w":1550,"t":535},{"s":"ZG-25","w":1545,"t":531},{"s":"ZG-25","w":1541,"t":535},{"s":"ZG-25","w":1538,"t":534},{"s":"ZG-25","w":1534,"t":531},{"s":"ZG-25","w":1530,"t":533},{"s":"ZG-25","w":1525,"t":534},{"s":"ZG-25","w":1520,"t":530},{"s":"ZG-25","w":1515,"t":530},{"s":"ZG-25","w":1510,"t":532},{"s":"ZG-25","w":1505,"t":531},{"s":"ZG-25","w":1500,"t":529},{"s":"ZG-25","w":1490,"t":527},{"s":"ZG-25","w":1480,"t":526},{"s":"ZG-25","w":1470,"t":525},{"s":"ZG-25","w":1458,"t":524},{"s":"ZG-25","w":1450,"t":523},{"s":"ZG-25","w":1440,"t":522},{"s":"ZG-25","w":1430,"t":521},{"s":"ZG-25","w":1421,"t":520},{"s":"ZG-25","w":1412,"t":524},{"s":"ZG-25","w":1400,"t":527},{"s":"ZG-25","w":1390,"t":528},{"s":"ZG-25","w":1375,"t":529},{"s":"ZG-25","w":1360,"t":530},{"s":"ZG-25","w":1345,"t":531},{"s":"ZG-25","w":1330,"t":530},{"s":"ZG-25","w":1320,"t":529},{"s":"ZG-25","w":1312,"t":528},{"s":"ZG-25","w":1307,"t":528},{"s":"ZG-25","w":1300,"t":530},{"s":"ZG-25","w":1290,"t":532},{"s":"ZG-25","w":1275,"t":533},{"s":"ZG-25","w":1260,"t":534},{"s":"ZG-25","w":1240,"t":534},{"s":"ZG-25","w":1220,"t":535},{"s":"ZG-25","w":1200,"t":534},{"s":"ZG-25","w":1190,"t":533},{"s":"ZG-25","w":1180,"t":532},{"s":"ZG-25","w":1170,"t":531},{"s":"ZG-25","w":1160,"t":530},{"s":"ZG-25","w":1150,"t":527},{"s":"ZG-25","w":1144,"t":525},{"s":"ZG-25","w":1138,"t":528},{"s":"ZG-25","w":1128,"t":531},{"s":"ZG-25","w":1110,"t":531},{"s":"ZG-25","w":1090,"t":531},{"s":"ZG-25","w":1070,"t":531},{"s":"ZG-25","w":1050,"t":532},{"s":"ZG-25","w":1030,"t":531},{"s":"ZG-25","w":1015,"t":531},{"s":"ZG-25","w":1005,"t":530},{"s":"ZG-25","w":995,"t":529},{"s":"ZG-25","w":987,"t":530},{"s":"ZG-25","w":978,"t":533},{"s":"ZG-25","w":965,"t":534},{"s":"ZG-25","w":950,"t":535},{"s":"ZG-25","w":930,"t":536},{"s":"ZG-25","w":910,"t":537},{"s":"ZG-25","w":880,"t":538},{"s":"ZG-25","w":850,"t":538},{"s":"ZG-25","w":820,"t":538},{"s":"ZG-25","w":800,"t":537},{"s":"ZG-25","w":785,"t":535},{"s":"ZG-25","w":775,"t":532},{"s":"ZG-25","w":765,"t":529},{"s":"ZG-25","w":757,"t":527},{"s":"ZG-25","w":750,"t":529},{"s":"ZG-25","w":742,"t":532},{"s":"ZG-25","w":732,"t":533},{"s":"ZG-25","w":720,"t":534},{"s":"ZG-25","w":708,"t":534},{"s":"ZG-25","w":698,"t":533},{"s":"ZG-25","w":690,"t":533},{"s":"ZG-25","w":680,"t":533},{"s":"ZG-25","w":670,"t":533},{"s":"ZG-25","w":666,"t":530},{"s":"ZG-25","w":664,"t":534},{"s":"ZG-25","w":650,"t":535},{"s":"ZG-25","w":630,"t":535},{"s":"ZG-25","w":610,"t":536},{"s":"ZG-25","w":590,"t":536},{"s":"ZG-25","w":570,"t":537},{"s":"ZG-25","w":550,"t":536},{"s":"ZG-25","w":530,"t":537},{"s":"ZG-25","w":510,"t":537},{"s":"ZG-25","w":500,"t":537},
{"s":"GO","w":2000,"t":58},{"s":"GO","w":1980,"t":59},{"s":"GO","w":1960,"t":60},{"s":"GO","w":1940,"t":60},{"s":"GO","w":1920,"t":61},{"s":"GO","w":1900,"t":61},{"s":"GO","w":1880,"t":62},{"s":"GO","w":1865,"t":62},{"s":"GO","w":1850,"t":61},{"s":"GO","w":1830,"t":59},{"s":"GO","w":1815,"t":57},{"s":"GO","w":1800,"t":55},{"s":"GO","w":1790,"t":53},{"s":"GO","w":1780,"t":52},{"s":"GO","w":1770,"t":48},{"s":"GO","w":1760,"t":43},{"s":"GO","w":1750,"t":37},{"s":"GO","w":1740,"t":33},{"s":"GO","w":1730,"t":32},{"s":"GO","w":1720,"t":34},{"s":"GO","w":1710,"t":36},{"s":"GO","w":1700,"t":40},{"s":"GO","w":1690,"t":43},{"s":"GO","w":1683,"t":45},{"s":"GO","w":1675,"t":43},{"s":"GO","w":1666,"t":40},{"s":"GO","w":1655,"t":35},{"s":"GO","w":1645,"t":30},{"s":"GO","w":1635,"t":26},{"s":"GO","w":1625,"t":24},{"s":"GO","w":1618,"t":24},{"s":"GO","w":1610,"t":27},{"s":"GO","w":1600,"t":32},{"s":"GO","w":1586,"t":38},{"s":"GO","w":1570,"t":45},{"s":"GO","w":1555,"t":51},{"s":"GO","w":1540,"t":56},{"s":"GO","w":1525,"t":59},{"s":"GO","w":1510,"t":62},{"s":"GO","w":1500,"t":61},{"s":"GO","w":1490,"t":59},{"s":"GO","w":1478,"t":55},{"s":"GO","w":1465,"t":52},{"s":"GO","w":1450,"t":47},{"s":"GO","w":1440,"t":43},{"s":"GO","w":1430,"t":40},{"s":"GO","w":1418,"t":37},{"s":"GO","w":1400,"t":36},{"s":"GO","w":1380,"t":35},{"s":"GO","w":1360,"t":35},{"s":"GO","w":1340,"t":34},{"s":"GO","w":1320,"t":34},{"s":"GO","w":1300,"t":33},{"s":"GO","w":1280,"t":32},{"s":"GO","w":1265,"t":30},{"s":"GO","w":1250,"t":28},{"s":"GO","w":1235,"t":25},{"s":"GO","w":1220,"t":25},{"s":"GO","w":1200,"t":26},{"s":"GO","w":1180,"t":26},{"s":"GO","w":1160,"t":27},{"s":"GO","w":1140,"t":26},{"s":"GO","w":1120,"t":25},{"s":"GO","w":1100,"t":24},{"s":"GO","w":1085,"t":22},{"s":"GO","w":1070,"t":20},{"s":"GO","w":1060,"t":19},{"s":"GO","w":1050,"t":18},{"s":"GO","w":1040,"t":22},{"s":"GO","w":1030,"t":26},{"s":"GO","w":1020,"t":28},{"s":"GO","w":1000,"t":30},{"s":"GO","w":980,"t":32},{"s":"GO","w":963,"t":34},{"s":"GO","w":945,"t":38},{"s":"GO","w":930,"t":41},{"s":"GO","w":915,"t":44},{"s":"GO","w":905,"t":45},{"s":"GO","w":890,"t":44},{"s":"GO","w":870,"t":43},{"s":"GO","w":850,"t":42},{"s":"GO","w":833,"t":42},{"s":"GO","w":810,"t":41},{"s":"GO","w":790,"t":40},{"s":"GO","w":770,"t":39},{"s":"GO","w":750,"t":38},{"s":"GO","w":730,"t":37},{"s":"GO","w":710,"t":36},{"s":"GO","w":689,"t":35},{"s":"GO","w":670,"t":33},{"s":"GO","w":659,"t":32},{"s":"GO","w":650,"t":31},{"s":"GO","w":630,"t":29},{"s":"GO","w":610,"t":27},{"s":"GO","w":590,"t":25},{"s":"GO","w":580,"t":24},{"s":"GO","w":570,"t":25},{"s":"GO","w":560,"t":26},{"s":"GO","w":543,"t":28},{"s":"GO","w":520,"t":28},{"s":"GO","w":500,"t":28}
],
"labels":[
{"s":"ZG-25","w":1989,"t":562},{"s":"ZG-20","w":1989,"t":514},{"s":"ZG-15","w":1983,"t":467},{"s":"ZG-10","w":1989,"t":419},{"s":"ZG-7","w":1983,"t":370},{"s":"ZG-4","w":1983,"t":317},{"s":"ZG-2","w":1983,"t":243},{"s":"ZIF-8","w":1985,"t":150},{"s":"GO","w":1981,"t":85}
]
},
"layer":[
{"data":{"name":"spec"},
 "mark":{"type":"line","strokeWidth":2},
 "encoding":{
  "x":{"field":"w","type":"quantitative","scale":{"domain":[500,2000],"reverse":true,"nice":false,"zero":false},
   "axis":{"values":[2000,1900,1800,1700,1600,1500,1400,1300,1200,1100,1000,900,800,700,600,500],"format":"d","labelExpr":"datum.value % 200 == 0 ? datum.label : ''","grid":false,"domainColor":"#000","domainWidth":2,"tickColor":"#000","tickWidth":2,"tickSize":{"condition":{"test":"datum.value % 200 == 0","value":11},"value":6},"labelFontSize":23,"labelColor":"#000","labelPadding":4,"labelFont":"Liberation Sans","labelFlush":false,"title":"Wavenumber (cm⁻¹)","titleFontSize":28,"titleFontWeight":"normal","titleColor":"#000","titleFont":"Liberation Sans","titleY":73,"titleBaseline":"middle"}},
  "y":{"field":"t","type":"quantitative","scale":{"domain":[0,565],"nice":false,"zero":false},
   "axis":{"values":[565,448,330,212,95],"labels":false,"grid":false,"domainColor":"#000","domainWidth":2,"tickColor":"#000","tickWidth":2,"tickSize":{"condition":{"test":"datum.value == 448 || datum.value == 212","value":12},"value":5},"title":"Transmittance (%)","titleFontSize":27,"titleFontWeight":"bold","titleColor":"#000","titleFont":"Liberation Sans","titleX":-61,"titleY":269,"titleAngle":-90,"titleAlign":"center","titleBaseline":"middle"}},
  "color":{"field":"s","type":"nominal","legend":null,"scale":{"domain":["ZG-25","ZG-20","ZG-15","ZG-10","ZG-7","ZG-4","ZG-2","ZIF-8","GO"],"range":["#4e1420","#6630f0","#3a2cff","#1e1e9e","#1f9a12","#9a3cf5","#1f2cff","#111111","#ff1a1a"]}}
 }},
{"data":{"name":"labels"},
 "mark":{"type":"text","align":"left","baseline":"middle","fontSize":22,"font":"Liberation Sans","color":"#000"},
 "encoding":{
  "x":{"field":"w","type":"quantitative"},
  "y":{"field":"t","type":"quantitative"},
  "text":{"field":"s"}
 }}
]
}
